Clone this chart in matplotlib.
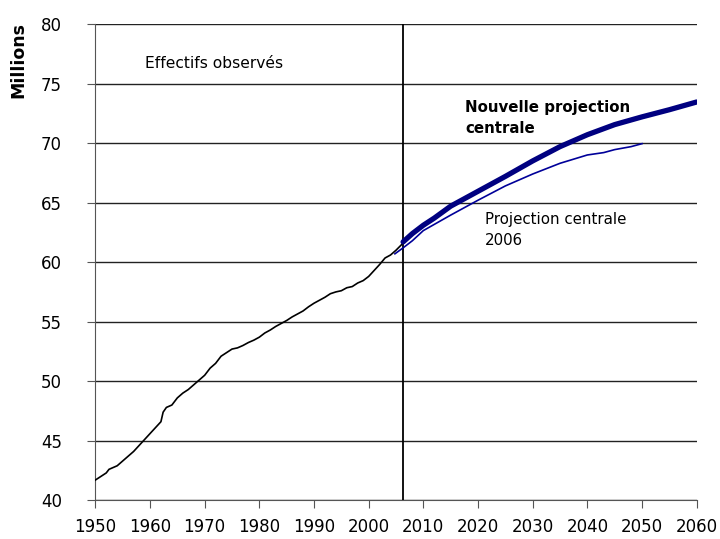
import matplotlib
matplotlib.use("Agg")
import matplotlib.pyplot as plt

plt.rcParams["font.family"] = ["DejaVu Sans"]

# observed population (millions)
obs_years = [1950, 1951, 1952, 1952.5, 1954, 1955, 1956, 1957, 1958, 1959,
             1960, 1961, 1962, 1962.4, 1963, 1964, 1965, 1966, 1967, 1968,
             1969, 1970, 1971, 1972, 1973, 1974, 1975, 1976, 1977, 1978,
             1979, 1980, 1981, 1982, 1983, 1984, 1985, 1986, 1987, 1988,
             1989, 1990, 1991, 1992, 1993, 1994, 1995, 1996, 1997, 1998,
             1999, 2000, 2001, 2002, 2003, 2004, 2005, 2006.3]
obs_values = [41.7, 42.0, 42.3, 42.6, 42.9, 43.3, 43.7, 44.1, 44.6, 45.1,
              45.6, 46.1, 46.6, 47.4, 47.8, 48.0, 48.6, 49.0, 49.3, 49.7,
              50.1, 50.5, 51.1, 51.5, 52.1, 52.4, 52.7, 52.8, 53.0, 53.25,
              53.45, 53.7, 54.05, 54.3, 54.6, 54.85, 55.1, 55.4, 55.65, 55.9,
              56.25, 56.55, 56.8, 57.05, 57.35, 57.5, 57.6, 57.85, 57.95, 58.25,
              58.45, 58.8, 59.3, 59.8, 60.35, 60.6, 61.0, 61.6]

# new central projection
new_years = [2006.3, 2008, 2010, 2012, 2015, 2020, 2025, 2030, 2035, 2040,
             2045, 2050, 2055, 2060]
new_values = [61.7, 62.4, 63.1, 63.7, 64.7, 65.95, 67.2, 68.5, 69.7, 70.7,
              71.55, 72.2, 72.8, 73.45]

# 2006 central projection
old_years = [2004.8, 2006.3, 2008, 2010, 2015, 2020, 2025, 2030, 2035, 2040,
             2043, 2045, 2048, 2050]
old_values = [60.7, 61.2, 61.8, 62.65, 63.95, 65.2, 66.4, 67.4, 68.3, 69.0,
              69.2, 69.45, 69.7, 69.95]

CUTOFF = 2006.3

fig = plt.figure(figsize=(7.2, 5.39), dpi=100)
ax = fig.add_axes([0.1324, 0.0718, 0.8352, 0.8837])

ax.plot(obs_years, obs_values, color="black", lw=1.2, zorder=4)
ax.plot(old_years, old_values, color="#000099", lw=1.2, zorder=4)
ax.plot(new_years, new_values, color="#000080", lw=3.8, solid_capstyle="round", zorder=5)
ax.axvline(CUTOFF, color="black", lw=1.3, zorder=3)

ax.set_xlim(1950, 2060)
ax.set_ylim(40, 80)
ax.set_xticks(range(1950, 2061, 10))
ax.set_yticks(range(40, 81, 5))
ax.yaxis.grid(True, color="#222222", lw=1.0)
ax.set_axisbelow(True)

for side in ("top", "right"):
    ax.spines[side].set_visible(False)
for side in ("left", "bottom"):
    ax.spines[side].set_color("#555555")
ax.tick_params(axis="both", colors="#555555", labelcolor="black", labelsize=12,
               length=6, direction="out")
ax.tick_params(axis="x", pad=7)
ax.tick_params(axis="y", pad=18)

ax.text(1959, 76.7, "Effectifs observés", fontsize=11.2, va="center", ha="left")
ax.text(2017.6, 72.1, "Nouvelle projection\ncentrale", fontsize=10.8,
        fontweight="bold", va="center", ha="left", linespacing=1.5)
ax.text(2021.2, 62.7, "Projection centrale\n2006", fontsize=10.8,
        va="center", ha="left", linespacing=1.5)

fig.text(18 / 720, 1 - 60 / 539, "Millions", rotation=90, fontsize=12.5,
         fontweight="bold", ha="center", va="center")

fig.savefig("out.png", dpi=100)
